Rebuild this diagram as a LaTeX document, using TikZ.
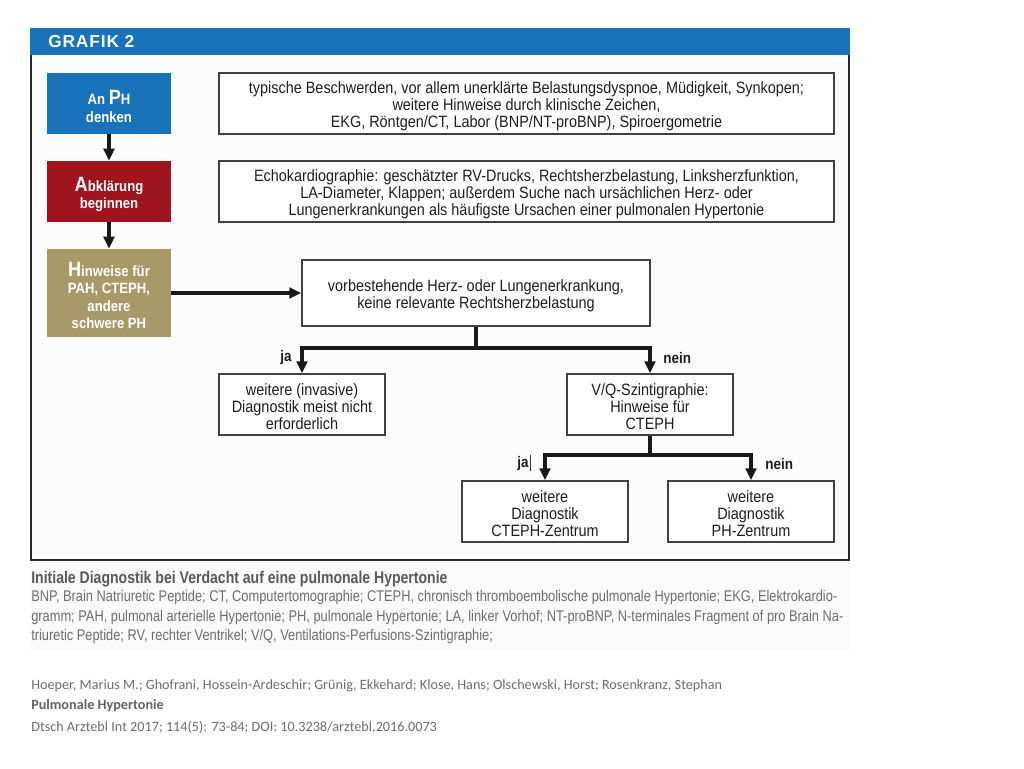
\documentclass[tikz,border=0pt]{standalone}
\usepackage{fontspec}
\setmainfont{Liberation Sans}[FakeStretch=0.88]
\newfontfamily\capfont{Liberation Sans}[FakeStretch=0.83]
\newfontfamily\hdrfont{Liberation Sans}[LetterSpace=5]
\newfontfamily\footfont{Carlito}
\usetikzlibrary{arrows.meta}
\newcommand\toppad[1]{\rule{0pt}{#1}}
\definecolor{hdrblue}{HTML}{1873BA}
\definecolor{boxred}{HTML}{A0141E}
\definecolor{boxkhaki}{HTML}{A89A68}
\definecolor{txtdark}{HTML}{1E1E1E}
\definecolor{capgray}{HTML}{5A5A5A}
\definecolor{footgray}{HTML}{6E6E6E}
\tikzset{
  px/.style={x=0.75pt,y=-0.75pt},
  colbox/.style={draw=none,text=white,font=\fontsize{11.2pt}{13pt}\selectfont\bfseries,align=center,inner sep=0pt},
  wbox/.style={draw=txtdark!85,line width=1.1pt,fill=white,text=txtdark,font=\fontsize{12.3pt}{12.75pt}\selectfont,align=center,inner sep=0pt},
  bigarrow/.style={line width=2.4pt,-{Triangle[length=9pt,width=8pt]},black!90},
  bigline/.style={line width=2.4pt,black!90},
  lbl/.style={font=\fontsize{11.5pt}{12pt}\selectfont\bfseries,text=txtdark,inner sep=0pt}
}
\begin{document}
\begin{tikzpicture}[px]
\useasboundingbox (0,0) rectangle (1024,768);
\fill[white] (0,0) rectangle (1024,768);
% caption background
\fill[black!2] (30,560) rectangle (850,650);
% frame
\fill[black!1] (31,55) rectangle (849,560);
\draw[black!85,line width=1.4pt] (31,55) -- (31,560) -- (849,560) -- (849,55);
\fill[hdrblue] (30,28) rectangle (850,55);
\node[anchor=west,text=white,font=\hdrfont\fontsize{13pt}{13pt}\selectfont\bfseries,inner sep=0pt] (hdr) at (48,42) {GRAFIK 2};

% left colored boxes
\node[colbox,fill=hdrblue,minimum width=124*0.75pt,minimum height=61*0.75pt] (ph) at (109,103.5)
  {\toppad{15pt}An {\fontsize{15.5pt}{15pt}\selectfont P}H\\denken};
\node[colbox,fill=boxred,minimum width=124*0.75pt,minimum height=61*0.75pt] (abk) at (109,191.5)
  {\toppad{15pt}{\fontsize{15.5pt}{15pt}\selectfont A}bklärung\\beginnen};
\node[colbox,fill=boxkhaki,minimum width=124*0.75pt,minimum height=88*0.75pt] (hin) at (109,293)
  {\toppad{14.5pt}{\fontsize{15.5pt}{15pt}\selectfont H}inweise für\\PAH, CTEPH,\\andere\\schwere PH};

% right description boxes
\node[wbox,minimum width=615*0.75pt,minimum height=61*0.75pt] (b1) at (526.5,103.5)
  {\toppad{13.5pt}typische Beschwerden, vor allem unerklärte Belastungsdyspnoe, Müdigkeit, Synkopen;\\weitere Hinweise durch klinische Zeichen,\\EKG, Röntgen/CT, Labor (BNP/NT-proBNP), Spiroergometrie};
\node[wbox,minimum width=615*0.75pt,minimum height=61*0.75pt] (b2) at (526.5,191.5)
  {\toppad{13.5pt}Echokardiographie: geschätzter RV-Drucks, Rechtsherzbelastung, Linksherzfunktion,\\LA-Diameter, Klappen; außerdem Suche nach ursächlichen Herz- oder\\Lungenerkrankungen als häufigste Ursachen einer pulmonalen Hypertonie};

\node[wbox,minimum width=348*0.75pt,minimum height=66*0.75pt] (b3) at (476,293)
  {\toppad{12.5pt}vorbestehende Herz- oder Lungenerkrankung,\\keine relevante Rechtsherzbelastung};
\node[wbox,minimum width=166*0.75pt,minimum height=61*0.75pt] (b4) at (302,404.5)
  {\toppad{12.5pt}weitere (invasive)\\Diagnostik meist nicht\\erforderlich};
\node[wbox,minimum width=166*0.75pt,minimum height=61*0.75pt] (b5) at (650,404.5)
  {\toppad{12.5pt}V/Q-Szintigraphie:\\Hinweise für\\CTEPH};
\node[wbox,minimum width=166*0.75pt,minimum height=61*0.75pt] (b6) at (545,511.5)
  {\toppad{12.5pt}weitere\\Diagnostik\\CTEPH-Zentrum};
\node[wbox,minimum width=166*0.75pt,minimum height=61*0.75pt] (b7) at (751,511.5)
  {\toppad{12.5pt}weitere\\Diagnostik\\PH-Zentrum};

% connectors
\draw[bigarrow] (ph) -- (abk);
\draw[bigarrow] (abk) -- (hin);
\draw[bigarrow] (hin) -- (b3);

\coordinate (j1) at (476,348);
\draw[bigline] (b3.south) -- (j1);
\draw[bigarrow] (j1) -| (b4.north);
\draw[bigarrow] (j1) -| (b5.north);
\node[lbl,anchor=east] (ja1) at (292,358) {ja};
\node[lbl,anchor=west] (nein1) at (663,358) {nein};

\coordinate (j2) at (650,455);
\draw[bigline] (b5.south) -- (j2);
\draw[bigarrow] (j2) -| (b6.north);
\draw[bigarrow] (j2) -| (b7.north);
\node[lbl,anchor=east] (ja2) at (529,464) {ja};
\draw[black!80,line width=0.5pt] (530,455) -- (530,471);
\node[lbl,anchor=west] (nein2) at (765,464) {nein};

% caption
\node[anchor=north west,inner sep=0pt,text=capgray,font=\capfont\fontsize{12.7pt}{14pt}\selectfont\bfseries] (ct) at (31,571)
  {Initiale Diagnostik bei Verdacht auf eine pulmonale Hypertonie};
\node[anchor=north west,inner sep=0pt,text=footgray,align=left,font=\capfont\fontsize{11.6pt}{14.7pt}\selectfont] (cb) at (31,590)
  {BNP, Brain Natriuretic Peptide; CT, Computertomographie; CTEPH, chronisch thromboembolische pulmonale Hypertonie; EKG, Elektrokardio-\\
   gramm; PAH, pulmonal arterielle Hypertonie; PH, pulmonale Hypertonie; LA, linker Vorhof; NT-proBNP, N-terminales Fragment of pro Brain Na-\\
   triuretic Peptide; RV, rechter Ventrikel; V/Q, Ventilations-Perfusions-Szintigraphie;};

% footer
\node[anchor=west,inner sep=0pt,text=footgray,font=\footfont\fontsize{10.65pt}{12pt}\selectfont] (f1) at (31,686)
  {Hoeper, Marius M.; Ghofrani, Hossein-Ardeschir; Grünig, Ekkehard; Klose, Hans; Olschewski, Horst; Rosenkranz, Stephan};
\node[anchor=west,inner sep=0pt,text=footgray!90!black,font=\footfont\fontsize{10.65pt}{12pt}\selectfont\bfseries] (f2) at (31,706)
  {Pulmonale Hypertonie};
\node[anchor=west,inner sep=0pt,text=footgray,font=\footfont\fontsize{10.65pt}{12pt}\selectfont] (f3) at (31,727)
  {Dtsch Arztebl Int 2017; 114(5): 73-84; DOI: 10.3238/arztebl.2016.0073};
\end{tikzpicture}
\end{document}
